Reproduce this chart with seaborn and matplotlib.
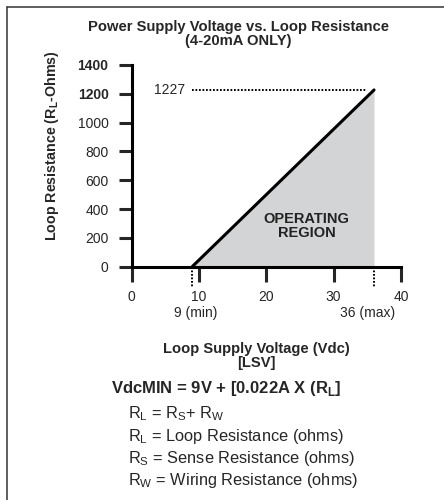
import matplotlib
matplotlib.use('Agg')
import matplotlib.pyplot as plt
from matplotlib.lines import Line2D
import pandas as pd
import seaborn as sns

# values
volts = [9, 36]          # Vdc, min and max supply voltage
ohms = [0, 1227]         # loop resistance at those voltages
v_min, v_max = 9, 36
r_max = 1227
x_ticks = [0, 10, 20, 30, 40]
y_ticks = [0, 200, 400, 600, 800, 1000, 1200, 1400]

title = 'Power Supply Voltage vs. Loop Resistance\n(4-20mA ONLY)'
ylab = 'Loop Resistance (R$_\\mathregular{L}$-Ohms)'
xlab = 'Loop Supply Voltage (Vdc)\n[LSV]'
formula = 'VdcMIN = 9V + [0.022A X (R$_\\mathregular{L}$]'
legend_lines = ['R$_\\mathregular{L}$ = R$_\\mathregular{S}$+ R$_\\mathregular{W}$',
                'R$_\\mathregular{L}$ = Loop Resistance (ohms)',
                'R$_\\mathregular{S}$ = Sense Resistance (ohms)',
                'R$_\\mathregular{W}$ = Wiring Resistance (ohms)']

sns.set_style('white')
plt.rcParams['font.family'] = ['Liberation Sans', 'DejaVu Sans']

W, H = 444, 500
def px(x, y):
    return x / W, 1 - y / H

fig = plt.figure(figsize=(W / 100, H / 100), dpi=100)
ax = fig.add_axes([131.5 / W, 1 - 266.7 / H, (401 - 131.5) / W, (266.7 - 65) / H])

df = pd.DataFrame({'volts': volts, 'ohms': ohms})
ax.fill_between(df['volts'], df['ohms'], 0, color='#d3d4d6', lw=0)
sns.lineplot(data=df, x='volts', y='ohms', color='black', lw=2.2, ax=ax, clip_on=False)

dot = dict(color='black', lw=1.4, ls=(0, (0.9, 0.9)), clip_on=False)
ax.plot([v_min, v_max - 1.2], [r_max, r_max], **dot)
ax.plot([v_min, v_min], [0, -150], **dot)
ax.plot([v_max, v_max], [0, -150], **dot)
ax.text(v_min - 1, r_max, str(r_max), ha='right', va='center', fontsize=10)
ax.text(v_min + 0.5, -320, f'{v_min} (min)', ha='center', va='center', fontsize=10)
ax.text(v_max - 0.9, -320, f'{v_max} (max)', ha='center', va='center', fontsize=10)
ax.text(26, 284, 'OPERATING\nREGION', ha='center', va='center', fontsize=10.5,
        fontweight='bold', linespacing=1.0, color='#222222')

ax.set_xlim(0, 40)
ax.set_ylim(0, 1400)
ax.set_xticks(x_ticks)
ax.set_yticks(y_ticks)
ax.set_xlabel('')
ax.set_ylabel('')
for s in ['top', 'right']:
    ax.spines[s].set_visible(False)
for s in ['left', 'bottom']:
    ax.spines[s].set_linewidth(2.2)
    ax.spines[s].set_color('black')
ax.tick_params(axis='y', direction='out', length=9.5, width=2.2, pad=7, labelsize=10, left=True)
ax.tick_params(axis='x', direction='out', length=11, width=2.2, pad=6, labelsize=10, bottom=True)
for lab in ax.get_yticklabels():
    if lab.get_text() in ('1400', '1200'):
        lab.set_fontweight('bold')

fig.text(*px(238, 34), title, ha='center', va='center', fontsize=10.6, fontweight='bold', linespacing=1.0)
fig.text(*px(52, 146), ylab, ha='center', va='center', rotation=90, fontsize=10.3, fontweight='bold')
fig.text(*px(256, 356), xlab, ha='center', va='center', fontsize=10.6, fontweight='bold', linespacing=0.95)
fig.text(*px(111, 389), formula, ha='left', va='center', fontsize=12, fontweight='bold')
for i, t in enumerate(legend_lines):
    fig.text(*px(128, 414 + i * 22), t, ha='left', va='center', fontsize=11.8)

# partial frame like the cropped source figure
fig.add_artist(Line2D([7 / W, 7 / W], [0, 1 - 7 / H], color='#333333', lw=1.1))
fig.add_artist(Line2D([7 / W, 1], [1 - 7 / H, 1 - 7 / H], color='#333333', lw=1.1))

fig.savefig('out.png', dpi=100)
